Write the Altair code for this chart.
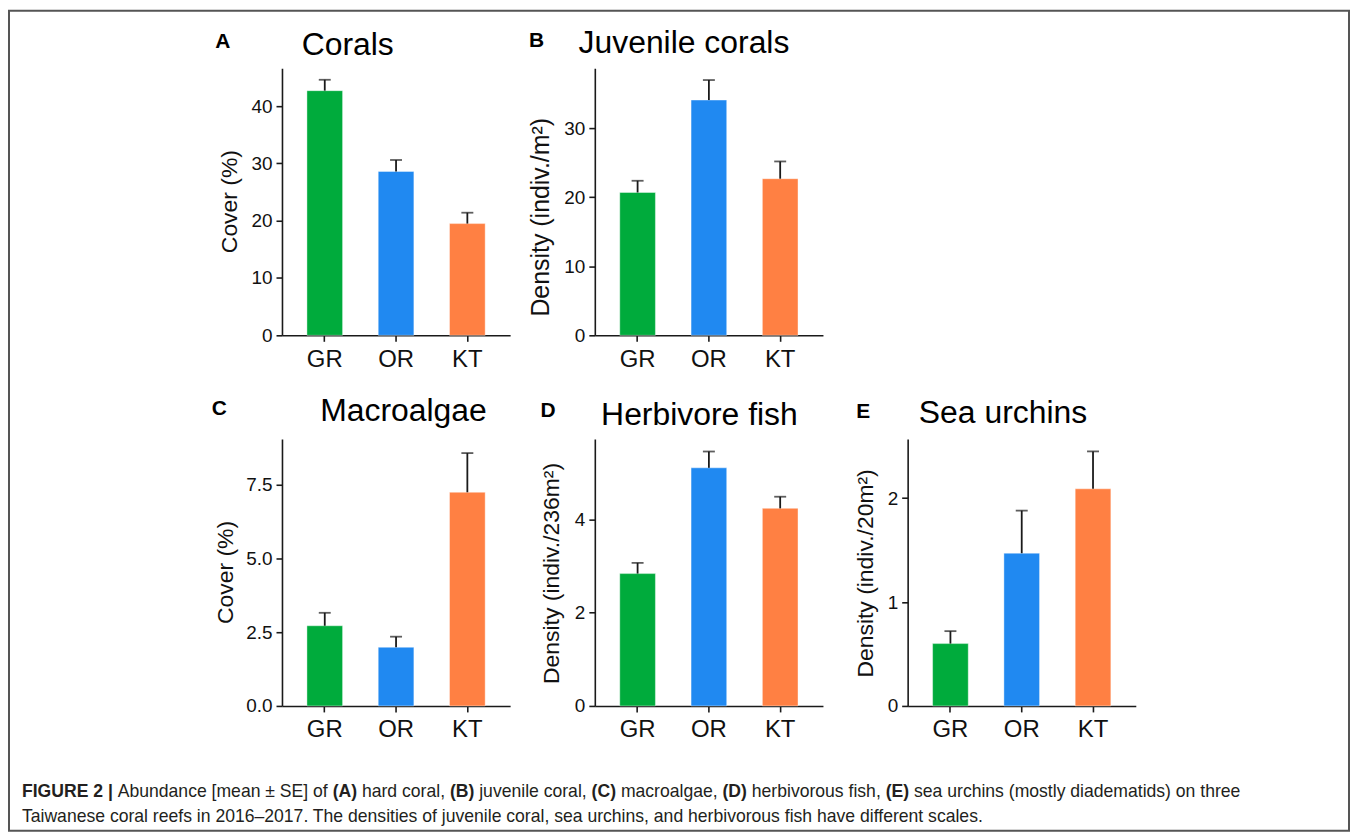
import altair as alt
import pandas as pd

# ---------------- data ----------------
sites = ["GR", "OR", "KT"]
site_colors = ["#00ab3c", "#2089f1", "#ff8043"]

coral_mean = [42.7, 28.6, 19.5]
coral_se = [1.9, 2.0, 1.9]
coral_ticks = [0, 10, 20, 30, 40]

juvenile_mean = [20.7, 34.1, 22.7]
juvenile_se = [1.7, 2.9, 2.5]
juvenile_ticks = [0, 10, 20, 30]

macroalgae_mean = [2.72, 1.99, 7.25]
macroalgae_se = [0.44, 0.36, 1.33]
macroalgae_ticks = [0, 2.5, 5.0, 7.5]

fish_mean = [2.84, 5.11, 4.24]
fish_se = [0.23, 0.35, 0.25]
fish_ticks = [0, 2, 4]

urchin_mean = [0.60, 1.47, 2.09]
urchin_se = [0.12, 0.41, 0.36]
urchin_ticks = [0, 1, 2]

FONT = "Liberation Sans"
W, H = 229, 268
INK = "#1a1a1a"


def text_layer(txt, x, y, size, weight="normal", align="center",
               baseline="alphabetic", color="#000000"):
    return alt.Chart(pd.DataFrame({"t": [txt]})).mark_text(
        font=FONT, fontSize=size, fontWeight=weight, align=align,
        baseline=baseline, color=color
    ).encode(text="t:N", x=alt.value(x), y=alt.value(y))


def panel(mean, se, ymax, ticks, fmt, ytitle, ytitle_x, ytitle_y, ytitle_size,
          title, title_x, title_y, letter, letter_x, letter_y, extra=()):
    df = pd.DataFrame({
        "site": sites,
        "mean": mean,
        "upper": [m + s for m, s in zip(mean, se)],
    })
    xenc = alt.X("site:N", sort=sites,
                 scale=alt.Scale(paddingInner=0.5, paddingOuter=0.35),
                 axis=alt.Axis(title=None, labelAngle=0))
    yscale = alt.Scale(domain=[0, ymax], nice=False, zero=True)
    yaxis = alt.Axis(values=ticks, format=fmt, title=ytitle, titleX=ytitle_x,
                     titleY=ytitle_y, titleBaseline="middle", titleAngle=270,
                     titleFontSize=ytitle_size)

    def yenc(f):
        return alt.Y(f, scale=yscale, axis=yaxis)

    base = alt.Chart(df)
    bars = base.mark_bar(stroke="#ffffff", strokeOpacity=0.4, strokeWidth=1).encode(
        x=xenc, y=yenc("mean:Q"),
        color=alt.Color("site:N", scale=alt.Scale(domain=sites, range=site_colors),
                        legend=None))
    stems = base.mark_rule(color=INK, strokeWidth=1.8).encode(
        x=xenc, y=yenc("mean:Q"), y2="upper:Q")
    caps = base.mark_tick(color=INK, thickness=1.8, size=12).encode(
        x=xenc, y=yenc("upper:Q"))
    layers = [bars, stems, caps,
              text_layer(title, title_x, title_y, 32),
              text_layer(letter, letter_x, letter_y, 21, weight="bold")]
    layers.extend(extra)
    return alt.layer(*layers).properties(width=W, height=H)


# ---------------- caption (laid out with Arial/Liberation Sans metrics) ----------------
REG = {}
for chars, w in [("ijl", 222), (" !,./:;[]ftI", 278), ("()-r", 333),
                 ("Jcksvxyz", 500), ("0123456789abdeghnopqu–", 556),
                 ("FTZ", 611), ("ABEKPSVXY", 667), ("CDHNRUw", 722),
                 ("GOQ", 778), ("mM", 833), ("W", 944), ("±", 549), ("|", 260),
                 ("%", 889)]:
    for ch in chars:
        REG[ch] = w
BOLD = {}
for chars, w in [(" I", 278), ("()", 333), ("2", 556), ("F", 611), ("E", 667),
                 ("ABCDRU", 722), ("G", 778), ("|", 280)]:
    for ch in chars:
        BOLD[ch] = w


def em(s, bold):
    table = BOLD if bold else REG
    return sum(table.get(c, 556) for c in s) / 1000.0


caption_line1 = [
    ("FIGURE 2 | ", True), ("Abundance [mean ± SE] of ", False),
    ("(A)", True), (" hard coral, ", False),
    ("(B)", True), (" juvenile coral, ", False),
    ("(C)", True), (" macroalgae, ", False),
    ("(D)", True), (" herbivorous fish, ", False),
    ("(E)", True), (" sea urchins (mostly diadematids) on three", False),
]
caption_line2 = [
    ("Taiwanese coral reefs in 2016–2017. The densities of juvenile coral, "
     "sea urchins, and herbivorous fish have different scales.", False),
]

cap_size = 1223.0 / sum(em(s, b) for s, b in caption_line1)
cap_left = -261  # relative to panel C origin
caption_layers = []
for line, ypos in [(caption_line1, 354.3), (caption_line2, 379.3)]:
    cur = cap_left
    for s, b in line:
        lead = s[: len(s) - len(s.lstrip())]
        xs = cur + em(lead, b) * cap_size
        caption_layers.append(
            text_layer(s.strip(), xs, ypos, cap_size,
                       weight="bold" if b else "normal", align="left",
                       baseline="middle", color="#231f20"))
        cur += em(s, b) * cap_size

border = alt.Chart(pd.DataFrame({"b": [0]})).mark_rect(
    filled=False, stroke="#555555", strokeWidth=2
).encode(x=alt.value(-274), x2=alt.value(1071), y=alt.value(-429.7),
         y2=alt.value(393.3))

# ---------------- panels ----------------
pA = panel(coral_mean, coral_se, 46.6, coral_ticks, "d", "Cover (%)", -53, 133.3, 23,
           "Corals", 66, -13.7, "A", -59.5, -20)
pB = panel(juvenile_mean, juvenile_se, 38.7, juvenile_ticks, "d",
           "Density (indiv./m²)", -54.5, 149, 25,
           "Juvenile corals", 89.5, -15, "B", -58.5, -21.7)
pC = panel(macroalgae_mean, macroalgae_se, 9.06, macroalgae_ticks, ".1f", "Cover (%)",
           -57, 133.5, 23, "Macroalgae", 122, -18, "C", -63, -23.7,
           extra=[border] + caption_layers)
pD = panel(fish_mean, fish_se, 5.73, fish_ticks, "d", "Density (indiv./236m²)",
           -43, 134.5, 23, "Herbivore fish", 105, -13.7, "D", -47, -21.7)
pE = panel(urchin_mean, urchin_se, 2.57, urchin_ticks, "d", "Density (indiv./20m²)",
           -42, 134.5, 23, "Sea urchins", 95.7, -15.7, "E", -44.5, -20.7)

blank = alt.Chart(pd.DataFrame({"t": [""]})).mark_text().encode(
    text="t:N").properties(width=W, height=H)

chart = alt.concat(
    pA, pB, blank, pC, pD, pE,
    columns=3, spacing={"row": 104, "column": 85}, bounds="flush"
).properties(
    padding=0
).configure_view(
    strokeWidth=0
).configure_axis(
    domainColor=INK, domainWidth=1.6, tickColor=INK, tickWidth=1.6, tickSize=6,
    labelFont=FONT, titleFont=FONT, labelColor="#111111", titleColor="#111111",
    titleFontWeight="normal", grid=False, labelFontSize=19, titleFontSize=23
).configure_axisX(
    labelFontSize=24, labelPadding=6
).configure_axisY(
    labelPadding=4
)

chart.save("out.html", embed_options={"renderer": "svg", "actions": False})
